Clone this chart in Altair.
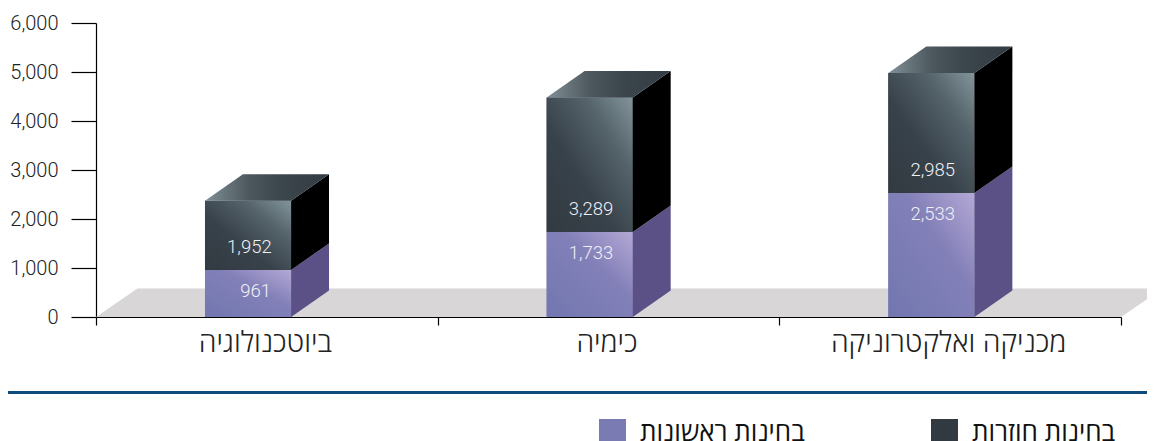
import altair as alt
import pandas as pd
import json

CATEGORIES = ["ביוטכנולוגיה", "כימיה", "מכניקה ואלקטרוניקה"]
FIRST = [961, 1733, 2533]
REPEAT = [1952, 3289, 2985]
SERIES = ["בחינות ראשונות", "בחינות חוזרות"]
LABEL_SHIFT_FIRST = [0.022, 0.004, 0.004]
LABEL_SHIFT_REPEAT = [0.004, 0.004, 0.004]

COLORS = ["#7a7bb3", "#323a41"]
FONT_NUM = "Roboto"
FONT_HE = "Open Sans"

# 3D box geometry in data units
BAR_LEFT, BAR_W, DX, DY = 0.319, 0.252, 0.111, 540
FLOOR_DX, FLOOR_DY = 0.1215, 580

front, side_low, side_up, top = [], [], [], []
for i, (a, b) in enumerate(zip(FIRST, REPEAT)):
    xl = i + BAR_LEFT
    xr = xl + BAR_W
    total_front = a + b - DY
    front.append(dict(x=xl, x2=xr, y=0, y2=a, series=SERIES[0]))
    front.append(dict(x=xl, x2=xr, y=a, y2=total_front, series=SERIES[1]))
    side_low += [dict(g=i, x=xr, y=0, y2=a), dict(g=i, x=xr + DX, y=DY, y2=a + DY)]
    side_up += [dict(g=i, x=xr, y=a, y2=total_front), dict(g=i, x=xr + DX, y=a + DY, y2=a + b)]
    top += [dict(g=i, y=total_front, x=xl, x2=xr), dict(g=i, y=a + b, x=xl + DX, x2=xr + DX)]

labels_first = pd.DataFrame(
    dict(x=[i + BAR_LEFT + BAR_W / 2 + s for i, s in enumerate(LABEL_SHIFT_FIRST)], y=FIRST,
         t=[f"{v:,}" for v in FIRST]))
labels_rep = pd.DataFrame(
    dict(x=[i + BAR_LEFT + BAR_W / 2 + s for i, s in enumerate(LABEL_SHIFT_REPEAT)], y=FIRST,
         t=[f"{v:,}" for v in REPEAT]))
floor = pd.DataFrame([dict(y=0, x=0, x2=3), dict(y=FLOOR_DY, x=FLOOR_DX, x2=3 + FLOOR_DX)])
front_df = pd.DataFrame(front)

xs = alt.Scale(domain=[0, 3], nice=False, zero=False)
ys = alt.Scale(domain=[0, 6000], nice=False)

grad_purple = alt.Gradient(gradient="linear", x1=0, y1=1, x2=1, y2=0, stops=[
    alt.GradientStop(color="#7277af", offset=0),
    alt.GradientStop(color="#8380b8", offset=0.6),
    alt.GradientStop(color="#b4a9d5", offset=1)])
grad_dark = alt.Gradient(gradient="linear", x1=0, y1=1, x2=1, y2=0, stops=[
    alt.GradientStop(color="#323a41", offset=0),
    alt.GradientStop(color="#38424a", offset=0.4),
    alt.GradientStop(color="#55636a", offset=0.72),
    alt.GradientStop(color="#82959b", offset=1)])
grad_top = alt.Gradient(gradient="linear", x1=0, y1=0, x2=1, y2=0, stops=[
    alt.GradientStop(color="#7f9096", offset=0),
    alt.GradientStop(color="#4d585e", offset=0.35),
    alt.GradientStop(color="#3c464d", offset=0.6),
    alt.GradientStop(color="#333b42", offset=1)])

x_axis = alt.Axis(
    title=None, values=[0, 0.5, 1, 1.5, 2, 2.5, 3], grid=False, tickSize=8, tickWidth=1.2,
    domainColor="#000", domainWidth=1.2, tickColor="#000",
    tickOpacity={"condition": {"test": "datum.value % 1 === 0", "value": 1}, "value": 0},
    labelExpr=f"datum.value % 1 ? {json.dumps(CATEGORIES, ensure_ascii=False)}[floor(datum.value)] : ''",
    labelFont=FONT_HE, labelFontWeight=300, labelFontSize=28.5, labelColor="#222",
    labelPadding=3, labelOffset=-2, labelOverlap=False, labelFlush=False, labelAngle=0,
    labelLimit=500)
y_axis = alt.Axis(
    title=None, values=[0, 1000, 2000, 3000, 4000, 5000, 6000], format=",.0f", grid=False,
    tickSize=25, tickWidth=1.2, tickColor="#000", domainColor="#000", domainWidth=1.2,
    labelFont=FONT_NUM, labelFontWeight=300, labelFontSize=20, labelColor="#222",
    labelPadding=13, labelOverlap=False, labelFlush=False)

X = alt.X("x:Q", scale=xs, axis=x_axis)
Y = alt.Y("y:Q", scale=ys, axis=y_axis)

floor_l = alt.Chart(floor).mark_area(orient="horizontal", color="#d8d6d7").encode(
    x=X, x2="x2:Q", y=Y)

base_front = alt.Chart(front_df).mark_rect().encode(
    x=X, x2="x2:Q", y=Y, y2="y2:Q",
    color=alt.Color("series:N", scale=alt.Scale(domain=SERIES, range=COLORS),
                    legend=alt.Legend(
                        title=None, orient="none", legendX=503, legendY=396,
                        direction="horizontal", columns=2, columnPadding=126,
                        symbolType="square", symbolSize=729, symbolStrokeWidth=0,
                        labelFont=FONT_HE, labelFontSize=26, labelFontWeight=400,
                        labelColor="#111", labelOffset=14, padding=0, labelLimit=400)))

front_purple = alt.Chart(front_df).transform_filter(
    alt.datum.series == SERIES[0]).mark_rect(fill=grad_purple).encode(
    x=X, x2="x2:Q", y=Y, y2="y2:Q")
front_dark = alt.Chart(front_df).transform_filter(
    alt.datum.series == SERIES[1]).mark_rect(fill=grad_dark).encode(
    x=X, x2="x2:Q", y=Y, y2="y2:Q")

side_low_l = alt.Chart(pd.DataFrame(side_low)).mark_area(color="#5c5187").encode(
    x=X, y=Y, y2="y2:Q", detail="g:N")
side_up_l = alt.Chart(pd.DataFrame(side_up)).mark_area(color="#000000").encode(
    x=X, y=Y, y2="y2:Q", detail="g:N")
top_l = alt.Chart(pd.DataFrame(top)).mark_area(orient="horizontal", fill=grad_top).encode(
    x=X, x2="x2:Q", y=Y, detail="g:N")

txt_first = alt.Chart(labels_first).mark_text(
    font=FONT_NUM, fontWeight=300, fontSize=18.5, color="#f0f0f7", dy=21).encode(
    x=X, y=Y, text="t:N")
txt_rep = alt.Chart(labels_rep).mark_text(
    font=FONT_NUM, fontWeight=300, fontSize=18.5, color="#f0f0f7", dy=-23).encode(
    x=X, y=Y, text="t:N")

sep = alt.Chart(pd.DataFrame({"k": [0]})).mark_rule(color="#0f4a7c", strokeWidth=3).encode(
    x=alt.value(-88), x2=alt.value(1059), y=alt.value(369.5))

chart = alt.layer(
    floor_l, base_front, front_purple, front_dark, side_low_l, side_up_l, top_l,
    txt_first, txt_rep, sep
).properties(
    width=1025, height=294,
    autosize=alt.AutoSizeParams(type="none"),
    padding={"left": 88, "top": 15, "right": 26, "bottom": 124},
).configure_view(stroke=None)

chart.save("out.html", embed_options={"renderer": "svg", "actions": False})
